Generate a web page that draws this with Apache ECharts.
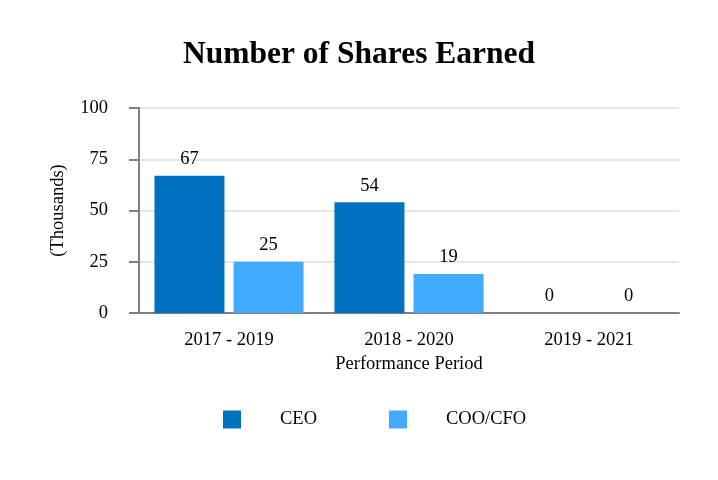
<!DOCTYPE html>
<html><head><meta charset="utf-8">
<script src="https://cdn.jsdelivr.net/npm/echarts@6/dist/echarts.min.js"></script>
<style>html,body{margin:0;padding:0;background:#fff}#c{width:718px;height:480px}</style>
</head><body><div id="c"></div>
<script>
const categories = ['2017 - 2019', '2018 - 2020', '2019 - 2021'];
const ceoValues = [67, 54, 0];
const cooCfoValues = [25, 19, 0];
const yTicks = [0, 25, 50, 75, 100];

const font = 'Liberation Serif, Times New Roman, serif';
const fs = 18.5;
const chart = echarts.init(document.getElementById('c'));
chart.setOption({
  backgroundColor: '#fff',
  animation: false,
  textStyle: { fontFamily: font },
  title: {
    text: 'Number of Shares Earned', left: 'center', top: 34,
    textStyle: { fontFamily: font, fontSize: 31.5, fontWeight: 'bold', color: '#000' }
  },
  legend: {
    left: 218, top: 405, itemWidth: 18, itemHeight: 18, itemGap: 72,
    icon: 'rect',
    textStyle: { fontFamily: font, fontSize: fs, color: '#000', padding: [0, 0, 0, 34] },
    data: ['CEO', 'COO/CFO']
  },
  grid: { left: 139, right: 39, top: 108, bottom: 167, containLabel: false },
  xAxis: {
    type: 'category', data: categories,
    name: 'Performance Period', nameLocation: 'middle', nameGap: 42,
    nameTextStyle: { fontFamily: font, fontSize: fs, color: '#000' },
    axisLine: { lineStyle: { color: '#808080', width: 2 } },
    axisTick: { alignWithLabel: true, length: 8, lineStyle: { color: '#808080', width: 2 }, interval: 0 },
    axisLabel: { fontFamily: font, fontSize: fs, color: '#000', margin: 18 }
  },
  yAxis: {
    type: 'value', min: yTicks[0], max: yTicks[yTicks.length - 1], interval: 25,
    name: '(Thousands)', nameLocation: 'middle', nameGap: 71, nameRotate: 90,
    nameTextStyle: { fontFamily: font, fontSize: fs, color: '#000' },
    axisLine: { show: true, lineStyle: { color: '#808080', width: 2 } },
    axisTick: { show: true, length: 10, lineStyle: { color: '#808080', width: 2 } },
    axisLabel: { fontFamily: font, fontSize: fs, color: '#000', margin: 31 },
    splitLine: { lineStyle: { color: '#e6e6e6', width: 2 } }
  },
  series: [
    {
      name: 'CEO', type: 'bar', data: ceoValues, barWidth: 70, barGap: '13%',
      itemStyle: { color: '#0070c0' },
      label: { show: true, position: 'top', distance: 7, fontFamily: font, fontSize: fs, color: '#000' }
    },
    {
      name: 'COO/CFO', type: 'bar', data: cooCfoValues, barWidth: 70,
      itemStyle: { color: '#42abff' },
      label: { show: true, position: 'top', distance: 7, fontFamily: font, fontSize: fs, color: '#000' }
    }
  ]
});
</script></body></html>
